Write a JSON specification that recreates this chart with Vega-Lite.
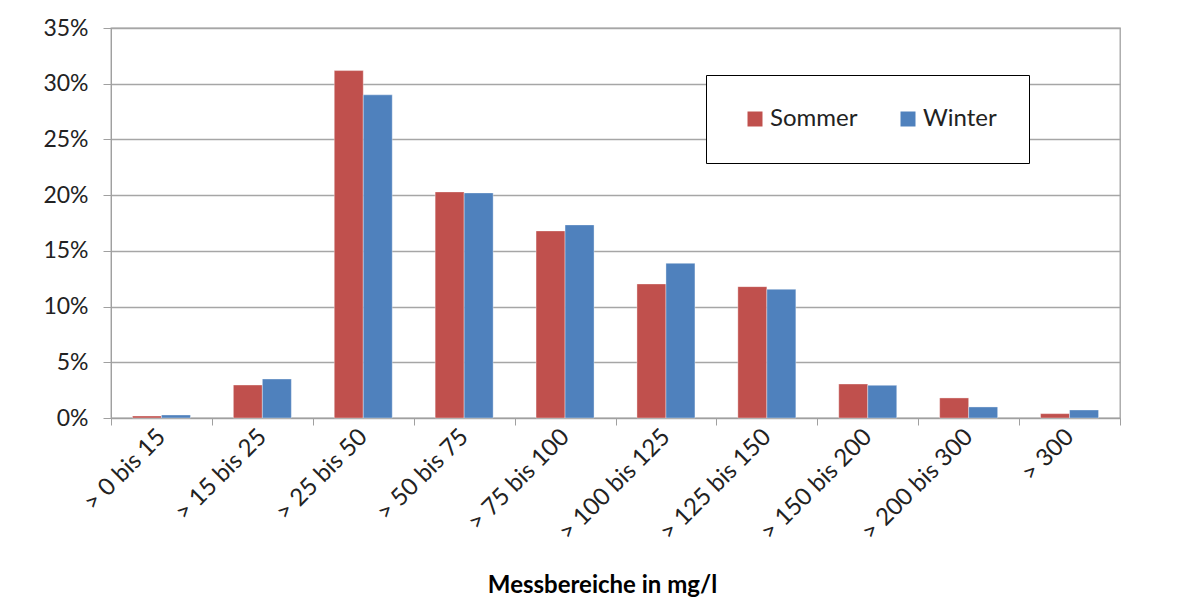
{
  "$schema": "https://vega.github.io/schema/vega-lite/v6.json",
  "autosize": {"type": "none"},
  "width": 1009,
  "height": 390,
  "padding": {"left": 111, "top": 28, "right": 73, "bottom": 183},
  "background": "white",
  "data": {
    "values": [
      {"bereich": "> 0 bis 15", "saison": "Sommer", "anteil": 0.18},
      {"bereich": "> 0 bis 15", "saison": "Winter", "anteil": 0.27},
      {"bereich": "> 15 bis 25", "saison": "Sommer", "anteil": 2.96},
      {"bereich": "> 15 bis 25", "saison": "Winter", "anteil": 3.5},
      {"bereich": "> 25 bis 50", "saison": "Sommer", "anteil": 31.18},
      {"bereich": "> 25 bis 50", "saison": "Winter", "anteil": 29.0},
      {"bereich": "> 50 bis 75", "saison": "Sommer", "anteil": 20.29},
      {"bereich": "> 50 bis 75", "saison": "Winter", "anteil": 20.2},
      {"bereich": "> 75 bis 100", "saison": "Sommer", "anteil": 16.79},
      {"bereich": "> 75 bis 100", "saison": "Winter", "anteil": 17.33},
      {"bereich": "> 100 bis 125", "saison": "Sommer", "anteil": 12.03},
      {"bereich": "> 100 bis 125", "saison": "Winter", "anteil": 13.88},
      {"bereich": "> 125 bis 150", "saison": "Sommer", "anteil": 11.79},
      {"bereich": "> 125 bis 150", "saison": "Winter", "anteil": 11.55},
      {"bereich": "> 150 bis 200", "saison": "Sommer", "anteil": 3.05},
      {"bereich": "> 150 bis 200", "saison": "Winter", "anteil": 2.93},
      {"bereich": "> 200 bis 300", "saison": "Sommer", "anteil": 1.8},
      {"bereich": "> 200 bis 300", "saison": "Winter", "anteil": 0.99},
      {"bereich": "> 300", "saison": "Sommer", "anteil": 0.39},
      {"bereich": "> 300", "saison": "Winter", "anteil": 0.72}
    ]
  },
  "mark": {"type": "bar", "stroke": "white", "strokeWidth": 0.6, "strokeOpacity": 0.6},
  "encoding": {
    "x": {
      "field": "bereich",
      "type": "nominal",
      "sort": null,
      "scale": {"paddingInner": 0, "paddingOuter": 0},
      "axis": {
        "title": "Messbereiche in mg/l",
        "titleFont": "Lato",
        "titleFontSize": 24,
        "titleFontWeight": "bold",
        "titleColor": "#000000",
        "titleX": 491,
        "titleY": 174,
        "titleBaseline": "alphabetic",
        "titleAlign": "center",
        "labelAngle": -45,
        "labelAlign": "right",
        "labelBaseline": "middle",
        "labelFont": "Lato",
        "labelFontSize": 24,
        "labelColor": "#222222",
        "labelPadding": 8,
        "tickBand": "extent",
        "tickSize": 7,
        "tickColor": "#a0a0a0",
        "domainColor": "#a0a0a0",
        "grid": false
      }
    },
    "xOffset": {
      "field": "saison",
      "type": "nominal",
      "scale": {"paddingInner": 0, "paddingOuter": 0.74}
    },
    "y": {
      "field": "anteil",
      "type": "quantitative",
      "scale": {"domain": [0, 35], "nice": false},
      "axis": {
        "title": null,
        "values": [0, 5, 10, 15, 20, 25, 30, 35],
        "labelExpr": "datum.value + '%'",
        "labelFont": "Lato",
        "labelFontSize": 23,
        "labelColor": "#222222",
        "labelPadding": 15,
        "tickSize": 8,
        "tickColor": "#a0a0a0",
        "domainColor": "#a0a0a0",
        "gridColor": "#a6a6a6",
        "gridWidth": 1.3
      }
    },
    "color": {
      "field": "saison",
      "type": "nominal",
      "scale": {"domain": ["Sommer", "Winter"], "range": ["#C0504D", "#4F81BD"]},
      "legend": {
        "title": null,
        "orient": "none",
        "direction": "horizontal",
        "legendX": 595,
        "legendY": 47,
        "padding": 32,
        "strokeColor": "#000000",
        "fillColor": "white",
        "symbolType": "square",
        "symbolSize": 225,
        "symbolStrokeWidth": 0,
        "labelFont": "Lato",
        "labelFontSize": 24,
        "labelColor": "#222222",
        "labelOffset": 3,
        "columnPadding": 33,
        "symbolOffset": 5
      }
    }
  },
  "config": {
    "view": {"stroke": "#a0a0a0", "strokeWidth": 1.3}
  }
}
